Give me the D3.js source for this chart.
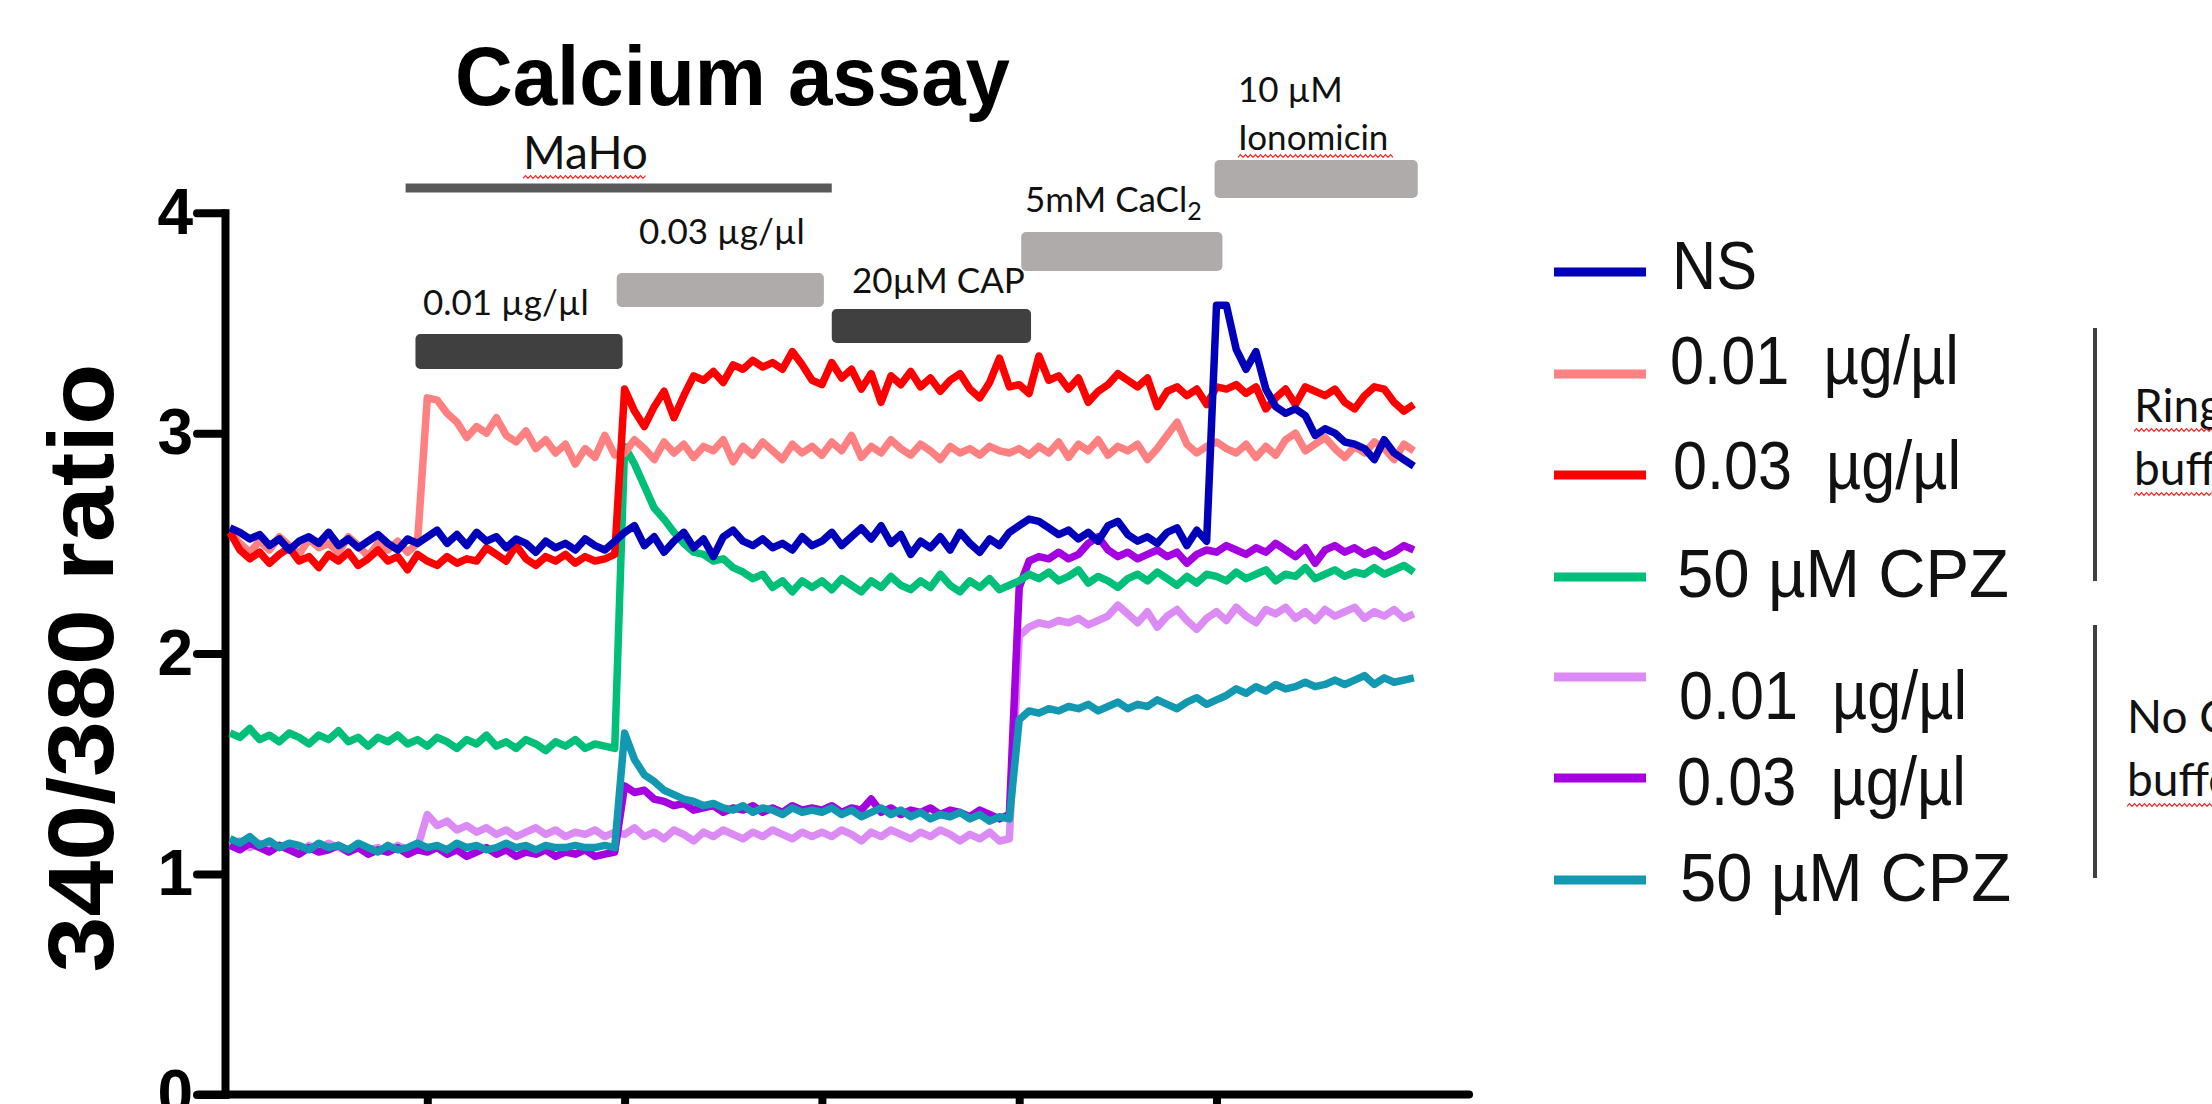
<!DOCTYPE html>
<html>
<head>
<meta charset="utf-8">
<title>Calcium assay</title>
<script src="https://d3js.org/d3.v7.min.js"></script>
<style>
  body { margin: 0; background: #fff; }
  svg { display: block; }
  text { white-space: pre; }
</style>
</head>
<body>
<div id="chart"></div>
<script>
// time step between samples (x units, ticks are unlabeled)
const dt = 0.05;

// Ringer buffer
const ns = [
  2.57, 2.55, 2.52, 2.54, 2.49, 2.52, 2.47, 2.51, 2.53, 2.50, 2.55, 2.49, 2.52, 2.48, 2.51, 2.54, 2.50, 2.47, 2.52, 2.50,
  2.53, 2.56, 2.50, 2.54, 2.49, 2.55, 2.51, 2.53, 2.48, 2.52, 2.50, 2.46, 2.51, 2.48, 2.50, 2.47, 2.52, 2.49, 2.47, 2.51,
  2.55, 2.58, 2.49, 2.53, 2.46, 2.51, 2.55, 2.48, 2.52, 2.44, 2.53, 2.56, 2.51, 2.49, 2.52, 2.48, 2.50, 2.47, 2.53, 2.49,
  2.51, 2.55, 2.49, 2.53, 2.57, 2.52, 2.58, 2.50, 2.54, 2.45, 2.51, 2.48, 2.53, 2.47, 2.55, 2.50, 2.46, 2.52, 2.49, 2.55,
  2.58, 2.61, 2.60, 2.57, 2.54, 2.56, 2.52, 2.55, 2.51, 2.58, 2.60, 2.54, 2.51, 2.53, 2.50, 2.55, 2.57, 2.49, 2.56, 2.51,
  3.58, 3.58, 3.38, 3.29, 3.37, 3.20, 3.12, 3.09, 3.11, 3.08, 2.99, 3.02, 3.00, 2.96, 2.95, 2.93, 2.88, 2.97, 2.91, 2.88,
  2.85
];
const ringer001 = [
  2.55, 2.50, 2.46, 2.51, 2.47, 2.53, 2.49, 2.45, 2.52, 2.48, 2.50, 2.46, 2.53, 2.49, 2.44, 2.50, 2.47, 2.51, 2.46, 2.50,
  3.16, 3.15, 3.09, 3.05, 2.98, 3.03, 3.00, 3.07, 2.99, 2.96, 3.01, 2.93, 2.97, 2.91, 2.95, 2.86, 2.93, 2.89, 2.99, 2.90,
  2.91, 2.97, 2.93, 2.88, 2.96, 2.91, 2.95, 2.89, 2.94, 2.92, 2.97, 2.87, 2.94, 2.90, 2.96, 2.92, 2.88, 2.95, 2.91, 2.94,
  2.90, 2.96, 2.92, 2.99, 2.89, 2.94, 2.91, 2.97, 2.93, 2.90, 2.95, 2.92, 2.88, 2.94, 2.91, 2.93, 2.90, 2.94, 2.92, 2.91,
  2.93, 2.90, 2.94, 2.91, 2.96, 2.89, 2.95, 2.92, 2.97, 2.90, 2.94, 2.92, 2.95, 2.88, 2.93, 2.99, 3.05, 2.95, 2.91, 2.94,
  2.96, 2.93, 2.91, 2.95, 2.89, 2.94, 2.90, 2.97, 3.00, 2.92, 2.95, 2.98, 2.93, 2.89, 2.94, 2.91, 2.96, 2.93, 2.88, 2.95,
  2.92
];
const ringer003 = [
  2.55, 2.47, 2.43, 2.46, 2.41, 2.45, 2.48, 2.42, 2.44, 2.39, 2.45, 2.42, 2.46, 2.40, 2.43, 2.47, 2.42, 2.44, 2.38, 2.45,
  2.42, 2.40, 2.44, 2.41, 2.43, 2.42, 2.48, 2.45, 2.42, 2.49, 2.43, 2.40, 2.44, 2.42, 2.45, 2.41, 2.44, 2.42, 2.43, 2.45,
  3.20, 3.10, 3.03, 3.12, 3.19, 3.07, 3.17, 3.26, 3.24, 3.28, 3.23, 3.31, 3.29, 3.33, 3.30, 3.32, 3.29, 3.37, 3.31, 3.24,
  3.22, 3.32, 3.25, 3.29, 3.20, 3.27, 3.14, 3.26, 3.22, 3.28, 3.21, 3.25, 3.19, 3.24, 3.27, 3.20, 3.16, 3.23, 3.34, 3.21,
  3.22, 3.18, 3.35, 3.24, 3.26, 3.20, 3.25, 3.14, 3.19, 3.22, 3.27, 3.24, 3.21, 3.25, 3.12, 3.19, 3.21, 3.17, 3.20, 3.13,
  3.21, 3.20, 3.22, 3.18, 3.21, 3.11, 3.16, 3.20, 3.13, 3.21, 3.19, 3.17, 3.20, 3.14, 3.11, 3.17, 3.21, 3.20, 3.14, 3.10,
  3.13
];
const ringerCpz = [
  1.64, 1.62, 1.66, 1.61, 1.63, 1.60, 1.64, 1.62, 1.59, 1.63, 1.61, 1.65, 1.60, 1.62, 1.58, 1.62, 1.60, 1.63, 1.59, 1.61,
  1.58, 1.62, 1.60, 1.57, 1.61, 1.59, 1.63, 1.58, 1.60, 1.57, 1.61, 1.59, 1.56, 1.60, 1.58, 1.61, 1.57, 1.59, 1.58, 1.57,
  2.94, 2.86, 2.76, 2.66, 2.61, 2.55, 2.50, 2.46, 2.45, 2.42, 2.43, 2.39, 2.37, 2.34, 2.36, 2.30, 2.33, 2.28, 2.33, 2.30,
  2.33, 2.29, 2.34, 2.31, 2.28, 2.33, 2.30, 2.35, 2.31, 2.29, 2.33, 2.30, 2.36, 2.31, 2.28, 2.33, 2.30, 2.34, 2.29, 2.31,
  2.33, 2.36, 2.34, 2.37, 2.33, 2.35, 2.38, 2.32, 2.35, 2.33, 2.30, 2.34, 2.36, 2.33, 2.37, 2.34, 2.31, 2.35, 2.32, 2.36,
  2.35, 2.33, 2.37, 2.34, 2.36, 2.38, 2.33, 2.36, 2.35, 2.39, 2.34, 2.36, 2.38, 2.35, 2.37, 2.36, 2.39, 2.36, 2.38, 2.40,
  2.37
];

// No Ca buffer
const noCa001 = [
  1.13, 1.15, 1.12, 1.14, 1.11, 1.13, 1.12, 1.10, 1.13, 1.11, 1.14, 1.12, 1.10, 1.13, 1.11, 1.12, 1.10, 1.13, 1.11, 1.12,
  1.27, 1.22, 1.24, 1.20, 1.22, 1.19, 1.21, 1.18, 1.20, 1.17, 1.19, 1.21, 1.18, 1.20, 1.17, 1.19, 1.18, 1.20, 1.17, 1.19,
  1.18, 1.21, 1.17, 1.19, 1.16, 1.20, 1.18, 1.15, 1.19, 1.17, 1.20, 1.18, 1.16, 1.19, 1.17, 1.20, 1.18, 1.16, 1.19, 1.17,
  1.19, 1.17, 1.20, 1.18, 1.15, 1.19, 1.17, 1.20, 1.18, 1.16, 1.19, 1.17, 1.20, 1.18, 1.15, 1.18, 1.16, 1.19, 1.15, 1.16,
  2.08, 2.12, 2.14, 2.13, 2.15, 2.14, 2.16, 2.13, 2.15, 2.17, 2.22, 2.18, 2.14, 2.19, 2.12, 2.17, 2.20, 2.15, 2.11, 2.16,
  2.19, 2.15, 2.21, 2.17, 2.14, 2.20, 2.18, 2.21, 2.16, 2.19, 2.15, 2.20, 2.17, 2.19, 2.21, 2.16, 2.19, 2.17, 2.20, 2.16,
  2.18
];
const noCa003 = [
  1.13, 1.11, 1.14, 1.12, 1.10, 1.13, 1.11, 1.09, 1.12, 1.10, 1.11, 1.13, 1.10, 1.12, 1.09, 1.11, 1.10, 1.12, 1.09, 1.11,
  1.10, 1.12, 1.09, 1.11, 1.08, 1.10, 1.12, 1.09, 1.11, 1.08, 1.10, 1.09, 1.11, 1.08, 1.10, 1.09, 1.11, 1.08, 1.09, 1.10,
  1.40, 1.37, 1.38, 1.34, 1.33, 1.31, 1.32, 1.29, 1.30, 1.31, 1.28, 1.30, 1.29, 1.31, 1.28, 1.30, 1.28, 1.31, 1.29, 1.30,
  1.29, 1.31, 1.28, 1.30, 1.29, 1.34, 1.28, 1.30, 1.27, 1.29, 1.28, 1.30, 1.27, 1.29, 1.28, 1.26, 1.29, 1.27, 1.25, 1.27,
  2.30, 2.42, 2.44, 2.43, 2.46, 2.43, 2.45, 2.50, 2.53, 2.47, 2.44, 2.46, 2.43, 2.45, 2.47, 2.44, 2.46, 2.41, 2.45, 2.47,
  2.46, 2.49, 2.47, 2.45, 2.48, 2.46, 2.50, 2.47, 2.44, 2.48, 2.41, 2.47, 2.49, 2.46, 2.48, 2.45, 2.47, 2.44, 2.46, 2.49,
  2.47
];
const noCaCpz = [
  1.16, 1.14, 1.17, 1.13, 1.15, 1.12, 1.14, 1.13, 1.11, 1.14, 1.12, 1.13, 1.11, 1.14, 1.12, 1.10, 1.13, 1.11, 1.12, 1.14,
  1.12, 1.13, 1.11, 1.14, 1.12, 1.13, 1.11, 1.12, 1.14, 1.12, 1.13, 1.11, 1.13, 1.12, 1.12, 1.13, 1.12, 1.12, 1.13, 1.12,
  1.64, 1.52, 1.45, 1.42, 1.38, 1.36, 1.34, 1.33, 1.31, 1.32, 1.30, 1.29, 1.31, 1.28, 1.30, 1.29, 1.27, 1.30, 1.28, 1.29,
  1.28, 1.30, 1.27, 1.29, 1.26, 1.28, 1.30, 1.27, 1.29, 1.26, 1.28, 1.25, 1.27, 1.26, 1.28, 1.25, 1.27, 1.24, 1.26, 1.25,
  1.70, 1.74, 1.73, 1.75, 1.74, 1.76, 1.75, 1.77, 1.74, 1.76, 1.78, 1.75, 1.77, 1.76, 1.79, 1.77, 1.75, 1.78, 1.80, 1.77,
  1.79, 1.81, 1.84, 1.82, 1.85, 1.83, 1.86, 1.84, 1.85, 1.87, 1.85, 1.86, 1.88, 1.86, 1.88, 1.90, 1.86, 1.89, 1.87, 1.88,
  1.89
];

const seriesNames = ["NS", "0.01  µg/µl", "0.03  µg/µl", "50 µM CPZ", "0.01  µg/µl", "0.03  µg/µl", "50 µM CPZ"];
const seriesColors = ["#0000bb", "#ff8080", "#ff0000", "#00bf78", "#dc8af4", "#a400e0", "#1298b0"];
const seriesData = [ns, ringer001, ringer003, ringerCpz, noCa001, noCa003, noCaCpz];
// order in which the traces are painted (last on top)
const drawOrder = [4, 5, 6, 3, 1, 2, 0];

const yTicks = [0, 1, 2, 3, 4];
const xTicks = [1, 2, 3, 4, 5];

// treatment bars (x units)
const barLabels = ["0.01 µg/µl", "0.03 µg/µl", "20µM CAP", "5mM CaCl", "Ionomicin"];
const barStart = [0.94, 1.96, 3.05, 4.01, 4.99];
const barEnd = [1.99, 3.01, 4.06, 5.03, 6.02];
const barDark = [true, false, true, false, false];
const mahoStart = 0.89, mahoEnd = 3.05;

const W = 2212, H = 1104;
const svg = d3.select("#chart").append("svg")
    .attr("width", W)
    .attr("height", H);

const x = d3.scaleLinear().domain([0, 6]).range([230, 1413.8]);
const y = d3.scaleLinear().domain([0, 4]).range([1094.5, 212.7]);

const sans = "'Liberation Sans', Arial, sans-serif";
const calibriLike = "Lato, 'Open Sans', sans-serif";

// title
svg.append("text")
    .attr("x", 455).attr("y", 105)
    .attr("font-family", sans).attr("font-weight", "bold").attr("font-size", 84)
    .attr("textLength", 555).attr("lengthAdjust", "spacingAndGlyphs")
    .text("Calcium assay");

// y axis
svg.append("g")
    .attr("transform", "translate(225,0)")
    .call(d3.axisLeft(y).tickValues(yTicks).tickFormat(d3.format("d"))
        .tickSize(28).tickPadding(4).tickSizeOuter(0))
    .call(g => g.select(".domain").attr("stroke", "#000").attr("stroke-width", 8).attr("stroke-linecap", "square"))
    .call(g => g.selectAll(".tick line").attr("stroke", "#000").attr("stroke-width", 8).attr("stroke-linecap", "round"))
    .call(g => g.selectAll(".tick text")
        .attr("font-family", sans).attr("font-weight", "bold").attr("font-size", 64).attr("fill", "#000"));

// x axis (no labels)
svg.append("g")
    .attr("transform", "translate(0,1094.5)")
    .call(d3.axisBottom(x).tickValues(xTicks).tickSize(16).tickFormat("").tickSizeOuter(0))
    .call(g => g.select(".domain").attr("d", "M" + x(-0.16) + ",0H" + x(6.28))
        .attr("stroke", "#000").attr("stroke-width", 8).attr("stroke-linecap", "round"))
    .call(g => g.selectAll(".tick line").attr("stroke", "#000").attr("stroke-width", 8));

// y axis title
svg.append("text")
    .attr("transform", "translate(113,668) rotate(-90)")
    .attr("text-anchor", "middle")
    .attr("font-family", sans).attr("font-weight", "bold").attr("font-size", 92)
    .attr("textLength", 609).attr("lengthAdjust", "spacingAndGlyphs")
    .text("340/380 ratio");

// traces
const line = d3.line()
    .x((d, i) => x(i * dt))
    .y(d => y(d));

svg.append("g").selectAll("path")
    .data(drawOrder)
    .enter()
    .append("path")
    .attr("d", k => line(seriesData[k]))
    .attr("fill", "none")
    .attr("stroke", k => seriesColors[k])
    .attr("stroke-width", 7.5)
    .attr("stroke-linejoin", "round");

// treatment bars
const barTop = [334, 273, 309, 232, 160];
const barBottom = [369, 307, 343, 271, 198];
svg.append("g").selectAll("rect")
    .data(barStart)
    .enter()
    .append("rect")
    .attr("x", (d, i) => x(d))
    .attr("width", (d, i) => x(barEnd[i]) - x(d))
    .attr("y", (d, i) => barTop[i])
    .attr("height", (d, i) => barBottom[i] - barTop[i])
    .attr("rx", 5)
    .attr("fill", (d, i) => barDark[i] ? "#404040" : "#aeabaa");

svg.append("rect")
    .attr("x", x(mahoStart)).attr("width", x(mahoEnd) - x(mahoStart))
    .attr("y", 183.5).attr("height", 9)
    .attr("fill", "#595959");

function label(txt, lx, ly, size) {
    return svg.append("text")
        .attr("x", lx).attr("y", ly)
        .attr("font-family", calibriLike).attr("font-size", size || 35)
        .attr("fill", "#111")
        .text(txt);
}

function squiggle(x0, x1, yy) {
    const pts = [];
    for (let px = x0, k = 0; px <= x1; px += 2.5, k++) pts.push([px, yy + (k % 2 ? -1.4 : 1.4)]);
    svg.append("path")
        .attr("d", d3.line()(pts))
        .attr("fill", "none")
        .attr("stroke", "#ff2020")
        .attr("stroke-width", 1.1);
}

label("MaHo", 523, 169, 46);
squiggle(523, 647, 177);
label(barLabels[0], 423, 315);
label(barLabels[1], 639, 244);
label(barLabels[2], 852, 293);
label(barLabels[3], 1025, 212)
    .append("tspan").attr("dy", 8).attr("font-size", 25).text("2");
label("10 µM", 1238, 102);
label(barLabels[4], 1238, 150);
squiggle(1238, 1394, 156);

// legend
const legY = [272, 374, 475, 577, 677, 778, 880];
const legTextY = [289, 384, 489, 597, 719, 805, 901];
const legTextX = [1672, 1670, 1673, 1677, 1679, 1677, 1680];
const legTextW = [85, 289, 288, 332, 288, 289, 331];
const leg = svg.append("g");
seriesNames.forEach((name, i) => {
    leg.append("line")
        .attr("x1", 1554).attr("x2", 1646)
        .attr("y1", legY[i]).attr("y2", legY[i])
        .attr("stroke", seriesColors[i])
        .attr("stroke-width", 9);
    leg.append("text")
        .attr("x", legTextX[i]).attr("y", legTextY[i])
        .attr("font-family", sans).attr("font-size", 69)
        .attr("textLength", legTextW[i]).attr("lengthAdjust", "spacingAndGlyphs")
        .attr("fill", "#111")
        .text(name);
});

// group brackets
[[328, 581], [625, 878]].forEach(b => {
    svg.append("line")
        .attr("x1", 2095).attr("x2", 2095)
        .attr("y1", b[0]).attr("y2", b[1])
        .attr("stroke", "#404040").attr("stroke-width", 4);
});
label("Ringer", 2134, 422, 46);
label("buffer", 2134, 485, 46);
squiggle(2134, 2212, 430);
squiggle(2134, 2212, 494);
label("No Ca", 2127, 733, 46);
label("buffer", 2127, 796, 46);
squiggle(2127, 2212, 805);
</script>
</body>
</html>
